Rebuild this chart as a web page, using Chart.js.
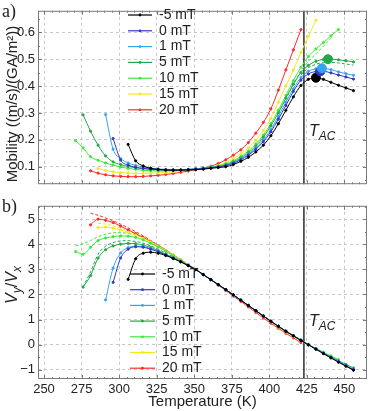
<!DOCTYPE html>
<html>
<head>
<meta charset="utf-8">
<script src="https://cdn.jsdelivr.net/npm/chart.js@4"></script>
<style>
  html, body { margin: 0; padding: 0; background: #fff; }
  #wrap { position: relative; width: 374px; height: 411px; }
  .panel { position: absolute; left: 0; }
  #top { top: 0; }
  #bottom { top: 195px; }
</style>
</head>
<body>
<div id="wrap">
  <div class="panel" id="top"><canvas id="mobChart" width="374" height="195"></canvas></div>
  <div class="panel" id="bottom"><canvas id="ratioChart" width="374" height="216"></canvas></div>
</div>
<script>
// field labels and colours
const fields = ['-5 mT', '0 mT', '1 mT', '5 mT', '10 mT', '15 mT', '20 mT'];
const colors = ['#000000', '#3535c8', '#35a4ee', '#1fa84a', '#3ce83c', '#f4e81a', '#ff2a2a'];

// tick labels
const tempTicks = [250, 275, 300, 325, 350, 375, 400, 425, 450];
const mobTicks = [0.1, 0.2, 0.3, 0.4, 0.5, 0.6];
const ratioTicks = [-1, 0, 1, 2, 3, 4, 5];
const tAC = 423;

// -5 mT
const tempM5 = [306, 311, 316, 321, 326, 331, 336, 341, 346, 351, 356, 361, 366, 371, 376, 381, 386, 391, 396, 401, 406, 411, 416, 421, 426, 431, 436, 441, 446, 451, 456];
const mobM5 = [0.183, 0.122, 0.103, 0.094, 0.09, 0.088, 0.087, 0.087, 0.088, 0.089, 0.091, 0.094, 0.097, 0.1, 0.108, 0.12, 0.135, 0.155, 0.18, 0.215, 0.26, 0.31, 0.36, 0.402, 0.425, 0.431, 0.425, 0.414, 0.403, 0.393, 0.383];
const ratioM5 = [2.6, 3.42, 3.64, 3.68, 3.64, 3.55, 3.43, 3.3, 3.15, 2.99, 2.79, 2.59, 2.39, 2.19, 1.98, 1.77, 1.56, 1.35, 1.14, 0.93, 0.73, 0.53, 0.35, 0.17, -0.01, -0.18, -0.36, -0.53, -0.7, -0.86, -1.02];

// 0 mT
const temp0 = [296, 301, 306, 311, 316, 321, 326, 331, 336, 341, 346, 351, 356, 361, 366, 371, 376, 381, 386, 391, 396, 401, 406, 411, 416, 421, 426, 431, 436, 441, 446, 451, 456];
const mob0 = [0.205, 0.125, 0.106, 0.098, 0.094, 0.091, 0.089, 0.088, 0.088, 0.088, 0.089, 0.091, 0.093, 0.096, 0.099, 0.104, 0.113, 0.126, 0.143, 0.165, 0.193, 0.23, 0.277, 0.328, 0.38, 0.422, 0.445, 0.454, 0.455, 0.449, 0.441, 0.434, 0.426];
const ratio0 = [2.48, 3.45, 3.8, 3.9, 3.88, 3.8, 3.7, 3.58, 3.44, 3.3, 3.15, 2.99, 2.79, 2.59, 2.39, 2.19, 1.98, 1.77, 1.56, 1.35, 1.14, 0.93, 0.73, 0.53, 0.35, 0.17, -0.01, -0.18, -0.35, -0.52, -0.69, -0.85, -1.0];

// 1 mT
const temp1 = [291, 296, 301, 306, 311, 316, 321, 326, 331, 336, 341, 346, 351, 356, 361, 366, 371, 376, 381, 386, 391, 396, 401, 406, 411, 416, 421, 426, 431, 436, 441, 446, 451, 456];
const mob1 = [0.294, 0.165, 0.13, 0.114, 0.105, 0.099, 0.095, 0.092, 0.09, 0.089, 0.089, 0.09, 0.092, 0.094, 0.097, 0.1, 0.106, 0.115, 0.129, 0.147, 0.17, 0.2, 0.238, 0.287, 0.34, 0.39, 0.432, 0.455, 0.464, 0.466, 0.461, 0.453, 0.446, 0.44];
const ratio1 = [1.78, 3.05, 3.65, 3.86, 3.92, 3.9, 3.83, 3.72, 3.6, 3.45, 3.3, 3.15, 2.99, 2.79, 2.59, 2.39, 2.19, 1.98, 1.77, 1.56, 1.35, 1.14, 0.93, 0.73, 0.53, 0.35, 0.17, -0.01, -0.18, -0.35, -0.51, -0.67, -0.83, -0.98];

// 5 mT
const temp5 = [276, 281, 286, 291, 296, 301, 306, 311, 316, 321, 326, 331, 336, 341, 346, 351, 356, 361, 366, 371, 376, 381, 386, 391, 396, 401, 406, 411, 416, 421, 426, 431, 436, 441, 446, 451, 456];
const mob5 = [0.293, 0.232, 0.18, 0.14, 0.118, 0.108, 0.101, 0.096, 0.093, 0.09, 0.088, 0.087, 0.087, 0.088, 0.09, 0.092, 0.095, 0.098, 0.101, 0.108, 0.118, 0.133, 0.152, 0.177, 0.21, 0.252, 0.3, 0.355, 0.407, 0.45, 0.477, 0.492, 0.499, 0.5, 0.498, 0.494, 0.49];
const ratio5 = [2.29, 2.75, 3.45, 3.78, 3.93, 4.0, 4.03, 4.02, 3.96, 3.87, 3.75, 3.6, 3.46, 3.31, 3.15, 2.99, 2.79, 2.59, 2.39, 2.19, 1.98, 1.77, 1.56, 1.35, 1.14, 0.93, 0.73, 0.54, 0.36, 0.18, 0.0, -0.17, -0.33, -0.49, -0.64, -0.79, -0.93];

// 10 mT
const temp10 = [271, 276, 281, 286, 291, 296, 301, 306, 311, 316, 321, 326, 331, 336, 341, 346, 351, 356, 361, 366, 371, 376, 381, 386, 391, 396, 401, 406, 411, 416, 421, 426, 431, 436, 441, 446];
const mob10 = [0.197, 0.17, 0.137, 0.124, 0.114, 0.106, 0.099, 0.094, 0.09, 0.087, 0.085, 0.084, 0.084, 0.085, 0.087, 0.089, 0.092, 0.095, 0.099, 0.103, 0.111, 0.122, 0.138, 0.158, 0.185, 0.218, 0.26, 0.31, 0.365, 0.42, 0.47, 0.51, 0.538, 0.562, 0.587, 0.61];
const ratio10 = [3.71, 3.6, 3.88, 4.14, 4.25, 4.3, 4.33, 4.32, 4.27, 4.17, 4.04, 3.89, 3.72, 3.54, 3.36, 3.18, 2.99, 2.79, 2.59, 2.39, 2.19, 1.98, 1.77, 1.56, 1.35, 1.14, 0.93, 0.73, 0.54, 0.36, 0.18, 0.01, -0.15, -0.3, -0.45, -0.6];

// 15 mT
const temp15 = [286, 291, 296, 301, 306, 311, 316, 321, 326, 331, 336, 341, 346, 351, 356, 361, 366, 371, 376, 381, 386, 391, 396, 401, 406, 411, 416, 421, 426, 431];
const mob15 = [0.093, 0.086, 0.081, 0.078, 0.076, 0.075, 0.075, 0.076, 0.077, 0.079, 0.082, 0.085, 0.088, 0.091, 0.095, 0.099, 0.105, 0.115, 0.13, 0.148, 0.17, 0.198, 0.235, 0.28, 0.34, 0.4, 0.46, 0.525, 0.585, 0.645];
const ratio15 = [4.66, 4.68, 4.64, 4.57, 4.47, 4.36, 4.23, 4.09, 3.92, 3.75, 3.56, 3.37, 3.19, 2.99, 2.79, 2.59, 2.39, 2.18, 1.97, 1.76, 1.55, 1.34, 1.12, 0.91, 0.7, 0.5, 0.32, 0.16, -0.01, -0.17];

// 20 mT
const temp20 = [281, 286, 291, 296, 301, 306, 311, 316, 321, 326, 331, 336, 341, 346, 351, 356, 361, 366, 371, 376, 381, 386, 391, 396, 401, 406, 411, 416, 421];
const mob20 = [0.085, 0.076, 0.07, 0.066, 0.064, 0.063, 0.063, 0.064, 0.066, 0.068, 0.071, 0.075, 0.079, 0.084, 0.089, 0.095, 0.102, 0.112, 0.126, 0.143, 0.163, 0.19, 0.225, 0.265, 0.315, 0.385, 0.46, 0.535, 0.61];
const ratio20 = [4.77, 5.0, 4.95, 4.86, 4.72, 4.57, 4.42, 4.27, 4.1, 3.93, 3.75, 3.56, 3.37, 3.19, 2.99, 2.79, 2.58, 2.37, 2.15, 1.93, 1.72, 1.5, 1.28, 1.06, 0.85, 0.65, 0.45, 0.27, 0.08];

// second sweep (dashed): high temperature mobility
const dashMobTemp5 = [421, 426, 431, 436, 441, 446, 451, 456];
const dashMob5 = [0.44, 0.468, 0.481, 0.487, 0.488, 0.486, 0.482, 0.478];
const dashMobTemp10 = [406, 411, 416, 421, 426, 431, 436, 441];
const dashMob10 = [0.3, 0.35, 0.405, 0.455, 0.492, 0.52, 0.548, 0.578];

// second sweep (dashed): low temperature V_y/V_x
const dashTemp5 = [276, 281, 286, 291, 296, 301, 306, 311, 316, 321, 326, 331, 336, 341, 346, 351];
const dashRatio5 = [2.3, 2.9, 3.6, 3.92, 4.06, 4.13, 4.14, 4.11, 4.04, 3.93, 3.8, 3.65, 3.49, 3.33, 3.16, 3.0];
const dashTemp10 = [271, 276, 281, 286, 291, 296, 301, 306, 311, 316, 321, 326, 331, 336, 341, 346, 351];
const dashRatio10 = [3.93, 4.02, 4.15, 4.3, 4.4, 4.45, 4.46, 4.43, 4.37, 4.26, 4.12, 3.96, 3.78, 3.58, 3.38, 3.19, 3.0];
const dashTemp15 = [286, 291, 296, 301, 306, 311, 316, 321, 326, 331, 336, 341, 346, 351];
const dashRatio15 = [4.83, 4.8, 4.73, 4.64, 4.53, 4.41, 4.27, 4.12, 3.95, 3.77, 3.57, 3.38, 3.19, 3.0];
const dashTemp20 = [281, 286, 291, 296, 301, 306, 311, 316, 321, 326, 331, 336, 341, 346, 351];
const dashRatio20 = [5.24, 5.15, 5.05, 4.93, 4.8, 4.65, 4.5, 4.33, 4.15, 3.97, 3.78, 3.58, 3.38, 3.19, 3.0];

// mobility maxima (big dots)
const peakTemp = [431, 434, 435, 439];
const peakMob = [0.431, 0.455, 0.466, 0.5];
const peakColors = ['#000000', '#3535c8', '#35a4ee', '#1fa84a'];

const FONT = '"Liberation Sans", Arial, sans-serif';

const series = [
  [tempM5, mobM5, ratioM5],
  [temp0, mob0, ratio0],
  [temp1, mob1, ratio1],
  [temp5, mob5, ratio5],
  [temp10, mob10, ratio10],
  [temp15, mob15, ratio15],
  [temp20, mob20, ratio20]
];
const dashedMob = [
  [3, dashMobTemp5, dashMob5],
  [4, dashMobTemp10, dashMob10]
];
const dashedRatio = [
  [3, dashTemp5, dashRatio5],
  [4, dashTemp10, dashRatio10],
  [5, dashTemp15, dashRatio15],
  [6, dashTemp20, dashRatio20]
];

function pts(xs, ys) {
  return xs.map((x, i) => ({ x: x, y: ys[i] }));
}

function lineSet(label, color, data) {
  return {
    label: label,
    data: data,
    borderColor: color,
    backgroundColor: color,
    borderWidth: 1,
    pointRadius: 1.1,
    pointHoverRadius: 0,
    cubicInterpolationMode: 'monotone'
  };
}

function dashSet(d) {
  const set = lineSet(fields[d[0]], colors[d[0]], pts(d[1], d[2]));
  set.borderDash = [3, 2];
  set.pointRadius = 0;
  return set;
}

function drawSub(ctx, x, y, main, sub, size) {
  ctx.font = 'italic ' + size + 'px ' + FONT;
  ctx.fillText(main, x, y);
  const w = ctx.measureText(main).width;
  ctx.font = 'italic ' + Math.round(size * 0.72) + 'px ' + FONT;
  ctx.fillText(sub, x + w, y + size * 0.28);
  return w + ctx.measureText(sub).width;
}

// frame, inner ticks, T_AC line, legend and labels
const decor = {
  id: 'decor',
  beforeDatasetsDraw(chart) {
    const { ctx, chartArea: a, scales } = chart;
    const px = scales.x.getPixelForValue(tAC);
    ctx.save();
    ctx.strokeStyle = '#3a3a3a';
    ctx.lineWidth = 1.6;
    ctx.beginPath();
    ctx.moveTo(px, a.top);
    ctx.lineTo(px, a.bottom);
    ctx.stroke();
    ctx.restore();
  },
  afterDraw(chart, args, o) {
    const { ctx, chartArea: a, scales } = chart;
    const xs = scales.x, ys = scales.y;
    ctx.save();
    ctx.strokeStyle = '#7a7a7a';
    ctx.lineWidth = 1;
    ctx.strokeRect(a.left + 0.5, a.top + 0.5, a.width - 1, a.height - 1);

    ctx.beginPath();
    for (let t = 250; t <= 460; t += 5) {
      const x = Math.round(xs.getPixelForValue(t)) + 0.5;
      const len = t % 25 === 0 ? 4 : 2;
      ctx.moveTo(x, a.top); ctx.lineTo(x, a.top + len);
      ctx.moveTo(x, a.bottom); ctx.lineTo(x, a.bottom - len);
    }
    for (let v = o.minor[0]; v <= ys.max; v += o.minor[1]) {
      const y = Math.round(ys.getPixelForValue(v)) + 0.5;
      if (y < a.top || y > a.bottom) continue;
      const major = Math.abs(v / o.minor[2] - Math.round(v / o.minor[2])) < 1e-6;
      const len = major ? 4 : 2;
      ctx.moveTo(a.left, y); ctx.lineTo(a.left + len, y);
      ctx.moveTo(a.right, y); ctx.lineTo(a.right - len, y);
    }
    ctx.stroke();

    // legend
    const lg = o.legend;
    ctx.textBaseline = 'middle';
    fields.forEach((f, i) => {
      const y = lg.y + i * lg.dy;
      ctx.strokeStyle = colors[i];
      ctx.lineWidth = 1.2;
      ctx.beginPath();
      ctx.moveTo(lg.x, y); ctx.lineTo(lg.x + lg.len, y);
      ctx.stroke();
      ctx.fillStyle = colors[i];
      ctx.beginPath();
      ctx.arc(lg.x + lg.len / 2, y, 1.4, 0, Math.PI * 2);
      ctx.fill();
      ctx.fillStyle = '#222';
      ctx.font = '14px ' + FONT;
      ctx.fillText(f, lg.textX, y);
    });

    // T_AC
    ctx.fillStyle = '#222';
    ctx.textBaseline = 'alphabetic';
    drawSub(ctx, o.tac[0], o.tac[1], 'T', 'AC', 16);

    // panel letter
    ctx.font = '18px "Liberation Serif", "DejaVu Serif", serif';
    ctx.fillText(o.letter, 2, o.letterY);

    // y title
    ctx.save();
    ctx.translate(17, o.yTitleY);
    ctx.rotate(-Math.PI / 2);
    ctx.textBaseline = 'alphabetic';
    if (o.yTitle) {
      ctx.font = '15px ' + FONT;
      ctx.textAlign = 'center';
      ctx.fillText(o.yTitle, 0, 0);
    } else {
      ctx.textAlign = 'left';
      ctx.font = 'italic 16px ' + FONT;
      const w1 = ctx.measureText('V').width;
      ctx.font = 'italic 12px ' + FONT;
      const w2 = ctx.measureText('y').width;
      ctx.font = '16px ' + FONT;
      const w3 = ctx.measureText('/').width;
      ctx.font = 'italic 12px ' + FONT;
      const w4 = ctx.measureText('x').width;
      let x = -(w1 + w2 + w3 + w1 + w4) / 2;
      x += drawSub(ctx, x, 0, 'V', 'y', 16);
      ctx.font = '16px ' + FONT;
      ctx.fillText('/', x, 0);
      x += w3;
      drawSub(ctx, x, 0, 'V', 'x', 16);
    }
    ctx.restore();

    if (o.xTitle) {
      ctx.font = '15px ' + FONT;
      ctx.textAlign = 'center';
      ctx.textBaseline = 'middle';
      ctx.fillStyle = '#222';
      ctx.fillText(o.xTitle, (a.left + a.right) / 2, o.xTitleY);
    }
    ctx.restore();
  }
};

function xAxis(showLabels, height) {
  return {
    type: 'linear',
    min: 246,
    max: 465,
    afterBuildTicks: s => { s.ticks = tempTicks.map(v => ({ value: v })); },
    afterFit: s => { s.height = height; },
    grid: { color: '#c8c8c8', lineWidth: 1, drawTicks: false },
    border: { display: false, dash: [3, 3] },
    ticks: { display: showLabels, padding: 3, color: '#222', font: { family: FONT, size: 13 } }
  };
}

function yAxis(min, max, tickList, fmt) {
  return {
    min: min,
    max: max,
    afterBuildTicks: s => { s.ticks = tickList.map(v => ({ value: v })); },
    afterFit: s => { s.width = 38; },
    grid: { color: '#c8c8c8', lineWidth: 1, drawTicks: false },
    border: { display: false, dash: [3, 3] },
    ticks: { padding: 3, color: '#222', font: { family: FONT, size: 13 }, callback: fmt }
  };
}

// top panel: mobility
const mobSets = series.map((s, i) => lineSet(fields[i], colors[i], pts(s[0], s[1])));
dashedMob.forEach(d => mobSets.push(dashSet(d)));
mobSets.push({
  label: 'maxima',
  data: pts(peakTemp, peakMob),
  showLine: false,
  pointRadius: 4.5,
  pointHoverRadius: 0,
  pointBackgroundColor: peakColors,
  pointBorderColor: peakColors,
  order: -1
});

new Chart(document.getElementById('mobChart').getContext('2d'), {
  type: 'line',
  data: { datasets: mobSets },
  options: {
    responsive: false,
    animation: false,
    layout: { padding: { left: 0, right: 7, top: 4, bottom: 4 } },
    plugins: {
      legend: { display: false },
      tooltip: { enabled: false },
      decor: {
        minor: [0.05, 0.05, 0.1],
        legend: { x: 128, y: 15, dy: 15.8, len: 24, textX: 159 },
        tac: [309, 136],
        letter: 'a)',
        letterY: 17,
        yTitle: 'Mobility ((m/s)/(GA/m\u00b2))',
        yTitleY: 104
      }
    },
    scales: {
      x: xAxis(false, 0),
      y: yAxis(0.035, 0.68, mobTicks, v => v.toFixed(1))
    }
  },
  plugins: [decor]
});

// bottom panel: V_y / V_x
const ratioSets = series.map((s, i) => lineSet(fields[i], colors[i], pts(s[0], s[2])));
dashedRatio.forEach(d => ratioSets.push(dashSet(d)));

new Chart(document.getElementById('ratioChart').getContext('2d'), {
  type: 'line',
  data: { datasets: ratioSets },
  options: {
    responsive: false,
    animation: false,
    layout: { padding: { left: 0, right: 7, top: 3, bottom: 0 } },
    plugins: {
      legend: { display: false },
      tooltip: { enabled: false },
      decor: {
        minor: [-1.5, 0.5, 1],
        legend: { x: 130, y: 79, dy: 15.7, len: 25, textX: 162 },
        tac: [309, 131],
        letter: 'b)',
        letterY: 17,
        yTitle: null,
        yTitleY: 90,
        xTitle: 'Temperature (K)',
        xTitleY: 207
      }
    },
    scales: {
      x: xAxis(true, 32),
      y: yAxis(-1.37, 5.53, ratioTicks, v => (v < 0 ? '\u2212' + Math.abs(v) : String(v)))
    }
  },
  plugins: [decor]
});
</script>
</body>
</html>
